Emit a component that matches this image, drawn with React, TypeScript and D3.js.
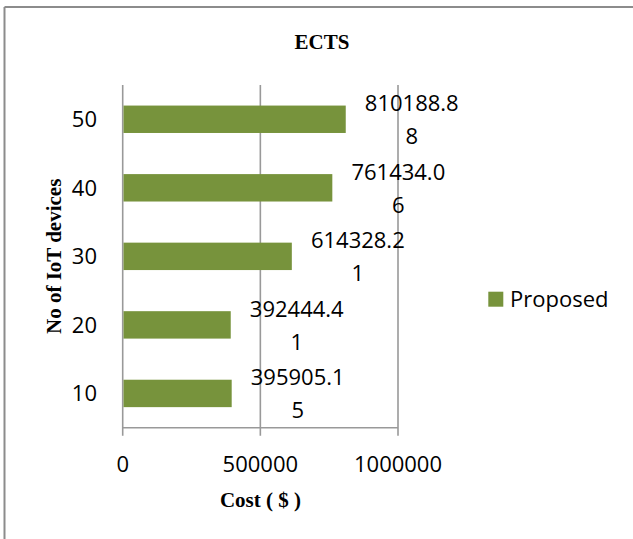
import React from "react";
import * as d3 from "d3";

const categories = ["10", "20", "30", "40", "50"];
const proposed = [395905.15, 392444.41, 614328.21, 761434.06, 810188.88];
const labelLine1 = ["395905.1", "392444.4", "614328.2", "761434.0", "810188.8"];
const labelLine2 = ["5", "1", "1", "6", "8"];
const xTicks = [0, 500000, 1000000];
const seriesName = "Proposed";
const title = "ECTS";
const xTitle = "Cost ( $ )";
const yTitle = "No of IoT devices";

const W = 633;
const H = 539;
const sans = "'Open Sans', sans-serif";
const serif = "'Liberation Serif', 'Times New Roman', serif";
const green = "#77933C";
const gridColor = "#999999";

export default function App() {
  const left = 122.7;
  const right = 398;
  const top = 85;
  const bottom = 427.7;
  const x = d3.scaleLinear().domain([0, 1000000]).range([left, right]);
  const y = d3
    .scaleBand<string>()
    .domain([...categories].reverse())
    .range([top, bottom])
    .paddingInner(0.6)
    .paddingOuter(0.3);
  const bw = y.bandwidth();

  return (
    <svg
      width={W}
      height={H}
      style={{ position: "absolute", left: 0, top: 0, background: "#fff" }}
    >
      <rect x={0} y={0} width={W} height={H} fill="#fff" />
      {/* chart border (top & left visible) */}
      <line x1={4.5} y1={7} x2={W + 5} y2={7} stroke="#8c8c8c" strokeWidth={2} />
      <line x1={4.5} y1={7} x2={4.5} y2={H + 5} stroke="#8c8c8c" strokeWidth={2} />

      <text
        x={322}
        y={49}
        textAnchor="middle"
        fontFamily={serif}
        fontWeight="bold"
        fontSize={21}
        fill="#000"
      >
        {title}
      </text>

      {/* gridlines + ticks */}
      {xTicks.map((t) => (
        <line
          key={"g" + t}
          x1={x(t)}
          x2={x(t)}
          y1={top}
          y2={bottom + 8}
          stroke={gridColor}
          strokeWidth={1.6}
        />
      ))}
      <line x1={left} x2={right} y1={bottom} y2={bottom} stroke={gridColor} strokeWidth={1.6} />

      {/* bars */}
      {categories.map((c, i) => (
        <rect
          key={"b" + c}
          x={x(0) + 0.8}
          y={y(c)!}
          width={x(proposed[i]) - x(0) - 0.8}
          height={bw}
          fill={green}
        />
      ))}

      {/* data labels */}
      {categories.map((c, i) => {
        const cy = y(c)! + bw / 2;
        const cx = x(proposed[i]) + 66;
        return (
          <g key={"l" + c} fontFamily={sans} fontSize={22} fill="#000" textAnchor="middle">
            <text x={cx} y={cy - 8}>{labelLine1[i]}</text>
            <text x={cx} y={cy + 25}>{labelLine2[i]}</text>
          </g>
        );
      })}

      {/* y tick labels */}
      {categories.map((c) => (
        <text
          key={"y" + c}
          x={97}
          y={y(c)! + bw / 2 + 8}
          textAnchor="end"
          fontFamily={sans}
          fontSize={22}
          fill="#000"
        >
          {c}
        </text>
      ))}

      {/* x tick labels */}
      {xTicks.map((t) => (
        <text
          key={"x" + t}
          x={x(t)}
          y={471.5}
          textAnchor="middle"
          fontFamily={sans}
          fontSize={22}
          fill="#000"
        >
          {String(t)}
        </text>
      ))}

      <text
        x={260.5}
        y={507}
        textAnchor="middle"
        fontFamily={serif}
        fontWeight="bold"
        fontSize={21}
        fill="#000"
      >
        {xTitle}
      </text>

      <text
        transform={`translate(60.5, ${(top + bottom) / 2}) rotate(-90)`}
        textAnchor="middle"
        fontFamily={serif}
        fontWeight="bold"
        fontSize={21}
        fill="#000"
      >
        {yTitle}
      </text>

      {/* legend */}
      <rect x={488.3} y={291.7} width={15} height={15} fill={green} />
      <text x={510} y={306.7} fontFamily={sans} fontSize={22} fill="#000">
        {seriesName}
      </text>
    </svg>
  );
}
